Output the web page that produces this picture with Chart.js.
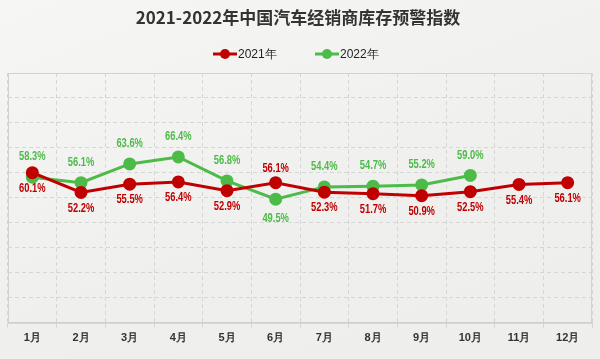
<!DOCTYPE html>
<html>
<head>
<meta charset="utf-8">
<script src="https://cdn.jsdelivr.net/npm/chart.js@4"></script>
<style>
  html, body { margin: 0; padding: 0; }
  body { width: 600px; height: 359px; background: linear-gradient(160deg, #f6f6f5 0%, #efefee 60%, #eeeeed 100%); overflow: hidden; }
  #wrap { position: relative; width: 600px; height: 359px; }
</style>
</head>
<body>
<div id="wrap"><canvas id="c" width="600" height="359"></canvas></div>
<script>
const months = ['1月', '2月', '3月', '4月', '5月', '6月', '7月', '8月', '9月', '10月', '11月', '12月'];
const values2021 = [60.1, 52.2, 55.5, 56.4, 52.9, 56.1, 52.3, 51.7, 50.9, 52.5, 55.4, 56.1];
const values2022 = [58.3, 56.1, 63.6, 66.4, 56.8, 49.5, 54.4, 54.7, 55.2, 59.0, null, null];

const RED = '#c00000';
const GREEN = '#4cbb47';
const LABEL_FONT = 'bold 12px "Liberation Sans", Arial, sans-serif';

// Title, legend and solid frame around the plot
const decor = {
    id: 'decor',
    beforeDatasetsDraw(chart) {
        const { ctx, chartArea: a } = chart;
        ctx.save();
        ctx.strokeStyle = '#d2d2d2';
        ctx.lineWidth = 1;
        ctx.strokeRect(a.left + 0.5, a.top + 0.5, a.right - a.left - 1, a.bottom - a.top);
        ctx.restore();
    },
    afterDraw(chart) {
        const ctx = chart.ctx;
        ctx.save();
        ctx.fillStyle = '#333';
        ctx.font = 'bold 17px "Noto Sans CJK SC", sans-serif';
        ctx.textAlign = 'center';
        ctx.textBaseline = 'middle';
        ctx.fillText('2021-2022年中国汽车经销商库存预警指数', 298, 18);

        const items = [
            { x: 213, text: '2021年', color: RED },
            { x: 315, text: '2022年', color: GREEN }
        ];
        ctx.font = '12px "Liberation Sans", sans-serif';
        ctx.textAlign = 'left';
        items.forEach(it => {
            ctx.strokeStyle = it.color;
            ctx.lineWidth = 3;
            ctx.beginPath();
            ctx.moveTo(it.x, 54);
            ctx.lineTo(it.x + 24, 54);
            ctx.stroke();
            ctx.fillStyle = it.color;
            ctx.beginPath();
            ctx.arc(it.x + 12, 54, 5, 0, Math.PI * 2);
            ctx.fill();
            ctx.fillStyle = '#222';
            ctx.fillText(it.text, it.x + 25, 55);
        });
        ctx.restore();
    }
};

function narrowText(ctx, text, x, y) {
    ctx.save();
    ctx.translate(x, y);
    ctx.scale(0.78, 1);
    ctx.fillText(text, 0, 0);
    ctx.restore();
}

// Value labels: 2021 below the point, 2022 above, swapped where 2021 sits clearly higher
const valueLabels = {
    id: 'valueLabels',
    afterDatasetsDraw(chart) {
        const ctx = chart.ctx;
        const m0 = chart.getDatasetMeta(0).data;
        const m1 = chart.getDatasetMeta(1).data;
        ctx.save();
        ctx.font = LABEL_FONT;
        ctx.textAlign = 'center';
        ctx.textBaseline = 'middle';
        months.forEach((_, i) => {
            const p0 = m0[i];
            const p1 = m1[i];
            const v1 = values2022[i];
            const swap = v1 != null && values2021[i] - v1 > 3;
            ctx.fillStyle = RED;
            narrowText(ctx, values2021[i].toFixed(1) + '%', p0.x, p0.y + (swap ? -14 : 16));
            if (v1 != null) {
                ctx.fillStyle = GREEN;
                narrowText(ctx, v1.toFixed(1) + '%', p1.x, p1.y + (swap ? 20 : -20));
            }
        });
        ctx.restore();
    }
};

new Chart(document.getElementById('c'), {
    type: 'line',
    data: {
        labels: months,
        datasets: [
            {
                label: '2021年',
                data: values2021,
                borderColor: RED,
                backgroundColor: RED,
                borderWidth: 3,
                pointRadius: 5,
                pointHoverRadius: 5,
                tension: 0
            },
            {
                label: '2022年',
                data: values2022,
                borderColor: GREEN,
                backgroundColor: GREEN,
                borderWidth: 3,
                pointRadius: 5,
                pointHoverRadius: 5,
                tension: 0
            }
        ]
    },
    options: {
        responsive: false,
        animation: false,
        layout: { padding: { top: 73, left: -2, right: 0, bottom: 10 } },
        plugins: {
            legend: { display: false },
            title: { display: false },
            tooltip: { enabled: false }
        },
        scales: {
            x: {
                offset: true,
                grid: { color: '#d6d6d6', offset: true, tickLength: 5 },
                border: { color: '#cfcfcf', dash: [4, 3] },
                ticks: { color: '#333', font: { size: 11, weight: 'bold' }, padding: 4 }
            },
            y: {
                min: 0,
                max: 100,
                ticks: { display: false, stepSize: 10 },
                grid: { color: '#d6d6d6', drawTicks: false },
                border: { display: false, dash: [4, 3] }
            }
        }
    },
    plugins: [decor, valueLabels]
});
</script>
</body>
</html>
